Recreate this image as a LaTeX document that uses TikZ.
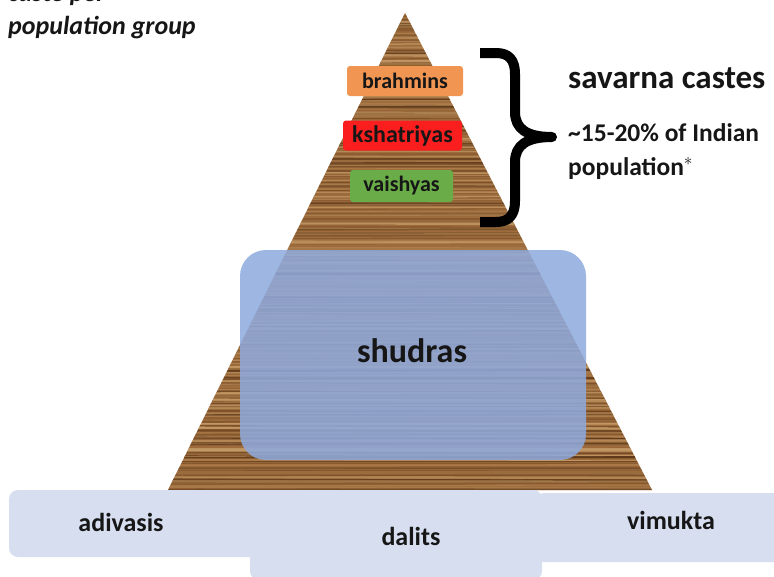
\documentclass[tikz,border=0pt]{standalone}
\usepackage{fontspec}
\setmainfont{Carlito}
\definecolor{woodbase}{RGB}{158,108,60}
\definecolor{wooddark}{RGB}{82,46,18}
\definecolor{woodlight}{RGB}{212,172,118}
\definecolor{brahc}{RGB}{240,150,82}
\definecolor{kshc}{RGB}{250,30,30}
\definecolor{vaic}{RGB}{106,172,72}
\definecolor{shuc}{RGB}{143,170,222}
\definecolor{basec}{RGB}{214,222,240}
\definecolor{txt}{RGB}{22,22,22}
\tikzset{
  varna/.style={rounded corners=3pt, inner sep=0pt, font=\bfseries\fontsize{22}{26}\selectfont, text=txt},
  bottombox/.style={fill=basec, rounded corners=9pt},
  bottomtext/.style={font=\bfseries\fontsize{26}{30}\selectfont, text=txt},
  sidetext/.style={anchor=base west, inner sep=0pt, text=txt},
}
\begin{document}
\begin{tikzpicture}[x=1pt,y=-1pt]
\useasboundingbox (0,0) rectangle (774,576);
\clip (0,0) rectangle (774,576);
\fill[white] (0,0) rectangle (774,576);
% title (cut off at top)
\node[sidetext, font=\bfseries\itshape\fontsize{26}{30}\selectfont] (title1) at (8,1) {caste per};
\node[sidetext, font=\bfseries\itshape\fontsize{26}{30}\selectfont] (title2) at (8,34) {population group};
% pyramid with wood texture
\begin{scope}
  \clip (405,13) -- (652,490) -- (168,490) -- cycle;
  \fill[woodbase] (150,0) rectangle (680,500);
  \pgfmathsetseed{11}
  \foreach \i in {0,...,160} {
    \pgfmathsetmacro\yy{10+3*\i+rnd*2}
    \pgfmathsetmacro\op{0.15+rnd*0.6}
    \pgfmathsetmacro\lw{0.5+rnd*2.2}
    \pgfmathsetmacro\dy{rnd*3-1.5}
    \draw[wooddark, opacity=\op, line width=\lw pt] (150,\yy) -- (680,{\yy+\dy});
  }
  \foreach \i in {0,...,120} {
    \pgfmathsetmacro\yy{11+4*\i+rnd*3}
    \pgfmathsetmacro\op{0.2+rnd*0.5}
    \pgfmathsetmacro\lw{0.6+rnd*2}
    \draw[woodlight, opacity=\op, line width=\lw pt] (150,\yy) -- (680,{\yy+rnd*2-1});
  }
\end{scope}
% varna boxes
\node[varna, fill=brahc, minimum width=116pt, minimum height=30pt] (brahmins) at (405,81) {brahmins};
\node[varna, fill=kshc, minimum width=119pt, minimum height=30pt, font=\bfseries\fontsize{24}{28}\selectfont] (kshatriyas) at (402.5,135.5) {kshatriyas};
\node[varna, fill=vaic, minimum width=103pt, minimum height=32pt] (vaishyas) at (401.5,186) {vaishyas};
% brace
\coordinate (bt) at (480,53);
\coordinate (bm) at (552,137);
\coordinate (bb) at (480,222);
\draw[line width=10pt, line join=round] (bt) -- (496,53) .. controls (509,53) and (515,60) .. (515,74) -- (515,112)
  .. controls (515,129) and (527,137) .. (bm)
  .. controls (527,137) and (515,145) .. (515,162) -- (515,201)
  .. controls (515,215) and (509,222) .. (496,222) -- (bb);
\node[sidetext, font=\bfseries\fontsize{33}{38}\selectfont] (savarna) at (568,88) {savarna castes};
\node[sidetext, font=\bfseries\fontsize{25.5}{30}\selectfont] (pct) at (568,141) {\textasciitilde 15-20\% of Indian};
\node[sidetext, font=\bfseries\fontsize{25.5}{30}\selectfont] (popl) at (568,175) {population$^{*}$};
% shudras
\fill[shuc, opacity=0.86, rounded corners=26pt] (240,250) rectangle (586,460);
\node[anchor=base, inner sep=0pt, font=\bfseries\fontsize{34}{40}\selectfont, text=txt] (shudras) at (412,362) {shudras};
% bottom boxes
\fill[bottombox] (9,490) rectangle (262,557);
\fill[bottombox] (535,493) rectangle (790,562);
\fill[bottombox] (250,490) rectangle (542,580);
\node[bottomtext] (adivasis) at (121,522) {adivasis};
\node[bottomtext] (dalits) at (411,536) {dalits};
\node[bottomtext] (vimukta) at (671,520) {vimukta};
\end{tikzpicture}
\end{document}
